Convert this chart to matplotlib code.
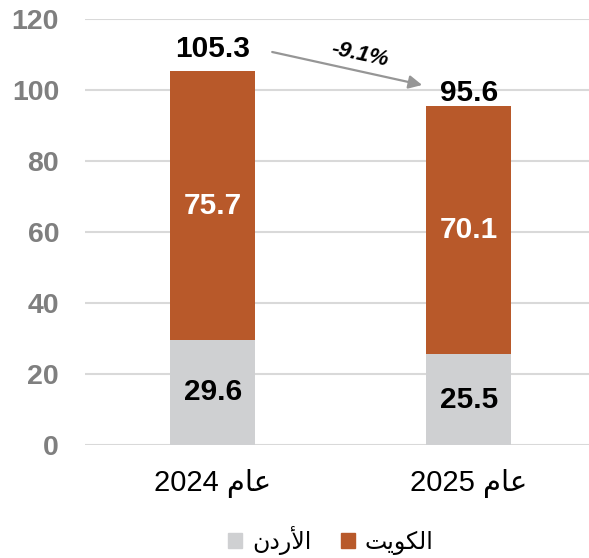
import matplotlib
matplotlib.use("Agg")
import matplotlib.pyplot as plt
from matplotlib.patches import Patch

# Arabic labels are written in shaped, visual order (matplotlib does no bidi shaping)
years = ["2024", "2025"]
am = "\uFEE1\uFE8E\uFECB"          # عام
categories = [y + " " + am for y in years]
series_names = ["\uFEE5\uFEA9\uFEAD\uFEF7\uFE8D",          # الأردن
                "\uFE96\uFEF3\uFEEE\uFEDC\uFEDF\uFE8D"]    # الكويت
jordan = [29.6, 25.5]
kuwait = [75.7, 70.1]
totals = [105.3, 95.6]
change_label = "-9.1%"
yticks = [0, 20, 40, 60, 80, 100, 120]

c_jordan = "#CFD0D2"
c_kuwait = "#B8592A"
fam = ["Liberation Sans", "DejaVu Sans"]
plt.rcParams["font.family"] = fam

fig = plt.figure(figsize=(5.89, 5.58), dpi=100)
ax = fig.add_axes([0.145, 0.2025, 0.855, 0.7635])

x = list(range(len(categories)))
w = 0.332
ax.bar(x, jordan, width=w, color=c_jordan, zorder=2)
ax.bar(x, kuwait, width=w, bottom=jordan, color=c_kuwait, zorder=2)

for i in x:
    ax.text(i, jordan[i] / 2, f"{jordan[i]:.1f}", ha="center", va="center",
            fontsize=21.5, fontweight="bold", color="black", zorder=3)
    ax.text(i, jordan[i] + kuwait[i] / 2, f"{kuwait[i]:.1f}", ha="center", va="center",
            fontsize=21.5, fontweight="bold", color="white", zorder=3)

offsets = [16, 9]
for i in x:
    ax.annotate(f"{totals[i]:.1f}", (i, totals[i]), xytext=(0, offsets[i]),
                textcoords="offset points", ha="center", va="center",
                fontsize=21.5, fontweight="bold", color="black")

# change arrow
ax.annotate("", xy=(0.818, 101.4), xytext=(0.232, 110.7),
            arrowprops=dict(arrowstyle="-|>,head_length=0.8,head_width=0.4",
                            color="#969696", lw=1.6, shrinkA=0, shrinkB=0))
ax.text(0.576, 110.0, change_label, ha="center", va="center", rotation=-12,
        fontsize=16, fontweight="bold", fontstyle="italic", color="black")

ax.set_ylim(0, 120)
ax.set_xlim(-0.498, 1.47)
ax.set_yticks(yticks)
ax.set_xticks(x)
ax.set_xticklabels(categories, fontsize=21, family=fam)
for lab in ax.get_yticklabels():
    lab.set_fontweight("bold")
    lab.set_fontsize(20.5)
    lab.set_color("#7F7F7F")
ax.tick_params(axis="y", length=0, pad=19)
ax.tick_params(axis="x", length=0, pad=17)
ax.grid(axis="y", color="#D9D9D9", lw=1.5, zorder=0)
ax.set_axisbelow(True)
for s in ax.spines.values():
    s.set_visible(False)

handles = [Patch(color=c_jordan, label=series_names[0]),
           Patch(color=c_kuwait, label=series_names[1])]
fig.legend(handles=handles, loc="center", bbox_to_anchor=(0.562, 0.032), ncol=2,
           frameon=False, prop={"family": fam, "size": 17},
           handlelength=0.58, handleheight=0.58, handletextpad=0.42, columnspacing=1.27)

fig.savefig("out.png", dpi=100)
